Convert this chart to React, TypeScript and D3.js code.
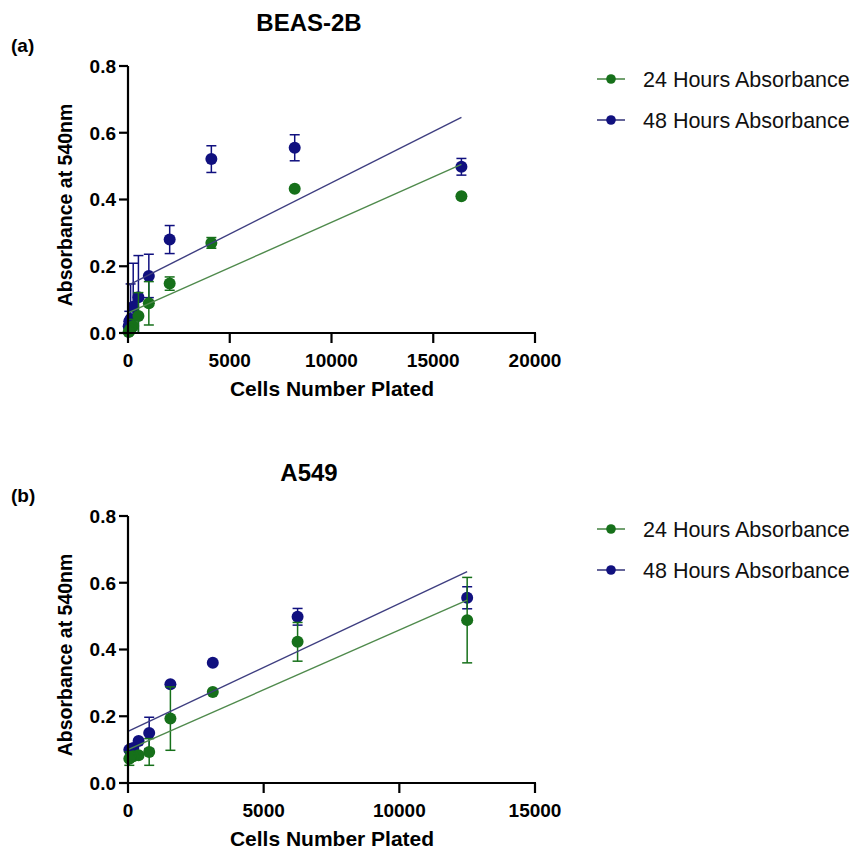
import React from 'react';
import * as d3 from 'd3';

// BEAS-2B (panel a)
const beasCells = [16384, 8192, 4096, 2048, 1024, 512, 256, 128, 64, 32];
const beas24 = [0.41, 0.432, 0.27, 0.148, 0.089, 0.051, 0.021, 0.011, 0.005, 0.003];
const beas24Err = [0, 0, 0.016, 0.02, 0.065, 0.07, 0.02, 0.01, 0, 0];
const beas48 = [0.498, 0.555, 0.521, 0.28, 0.171, 0.107, 0.079, 0.042, 0.035, 0.02];
const beas48Err = [0.025, 0.039, 0.04, 0.042, 0.065, 0.125, 0.13, 0.105, 0.03, 0];
const beasFit24 = [0.06, 2.716e-5]; // intercept, slope
const beasFit48 = [0.143, 3.07e-5];
const beasXTicks = [0, 5000, 10000, 15000, 20000];

// A549 (panel b)
const a549Cells = [12500, 6250, 3125, 1562.5, 781.25, 390.6, 195.3, 97.7, 48.8];
const a549_24 = [0.488, 0.423, 0.273, 0.193, 0.093, 0.083, 0.08, 0.078, 0.073];
const a549_24Err = [0.128, 0.058, 0, 0.095, 0.04, 0, 0, 0, 0.02];
const a549_48 = [0.555, 0.498, 0.36, 0.296, 0.15, 0.126, 0.105, 0.102, 0.1];
const a549_48Err = [0.033, 0.025, 0, 0, 0.047, 0, 0, 0, 0];
const a549Fit24 = [0.1, 3.584e-5];
const a549Fit48 = [0.155, 3.824e-5];
const a549XTicks = [0, 5000, 10000, 15000];

const yTicks = [0, 0.2, 0.4, 0.6, 0.8];
const seriesNames = ['24 Hours Absorbance', '48 Hours Absorbance'];

const green = '#16701a';
const blue = '#10107f';
const greenLine = '#4f8a4c';
const blueLine = '#3e3e80';
const font = 'Liberation Sans, Arial, sans-serif';

type PanelProps = {
  top: number;
  title: string;
  tag: string;
  cells: number[];
  v24: number[];
  e24: number[];
  v48: number[];
  e48: number[];
  fit24: number[];
  fit48: number[];
  xTicks: number[];
};

const Panel = (p: PanelProps) => {
  const left = 128;
  const right = 535;
  const plotTop = p.top + 66;
  const plotBottom = p.top + 333;
  const xMax = p.xTicks[p.xTicks.length - 1];

  const x = d3.scaleLinear().domain([0, xMax]).range([left, right]);
  const y = d3.scaleLinear().domain([0, 0.8]).range([plotBottom, plotTop]);

  // fitted line drawn over the range of the data
  const fitPath = (fit: number[]) => {
    const maxCell = d3.max(p.cells) as number;
    const gen = d3
      .line<number>()
      .x((d) => x(d))
      .y((d) => y(fit[0] + fit[1] * d));
    return gen([0, maxCell]) as string;
  };

  const series = [
    { vals: p.v48, errs: p.e48, color: blue },
    { vals: p.v24, errs: p.e24, color: green },
  ];

  const legendY = [p.top + 79, p.top + 120];
  const legendColors = [green, blue];
  const legendLines = [greenLine, blueLine];

  return (
    <g>
      <text x={309} y={p.top + 31} textAnchor="middle" fontSize={24} fontWeight="bold" fontFamily={font}>
        {p.title}
      </text>
      <text x={11} y={p.top + 52} fontSize={19} fontWeight="bold" fontFamily={font}>
        {p.tag}
      </text>

      {series.map((s, si) => (
        <g key={si}>
          {p.cells.map((c, i) => {
            const e = s.errs[i];
            if (!e) return null;
            const y1 = y(s.vals[i] + e);
            const y2 = y(Math.max(0, s.vals[i] - e));
            return (
              <g key={i} stroke={s.color} strokeWidth={1.5}>
                <line x1={x(c)} x2={x(c)} y1={y1} y2={y2} />
                <line x1={x(c) - 5} x2={x(c) + 5} y1={y1} y2={y1} />
                <line x1={x(c) - 5} x2={x(c) + 5} y1={y2} y2={y2} />
              </g>
            );
          })}
          {p.cells.map((c, i) => (
            <circle key={'p' + i} cx={x(c)} cy={y(s.vals[i])} r={6} fill={s.color} />
          ))}
        </g>
      ))}

      <path d={fitPath(p.fit48)} stroke={blueLine} strokeWidth={1.4} fill="none" />
      <path d={fitPath(p.fit24)} stroke={greenLine} strokeWidth={1.4} fill="none" />

      {/* axes */}
      <line x1={left} x2={left} y1={plotTop} y2={plotBottom} stroke="#000" strokeWidth={2.2} />
      <line x1={left - 1} x2={right + 1} y1={plotBottom} y2={plotBottom} stroke="#000" strokeWidth={2.2} />
      {yTicks.map((t) => (
        <g key={t}>
          <line x1={left - 9} x2={left} y1={y(t)} y2={y(t)} stroke="#000" strokeWidth={2.2} />
          <text
            x={left - 12}
            y={y(t)}
            dy="0.36em"
            textAnchor="end"
            fontSize={19}
            fontWeight="bold"
            fontFamily={font}
          >
            {d3.format('.1f')(t)}
          </text>
        </g>
      ))}
      {p.xTicks.map((t) => (
        <g key={t}>
          <line x1={x(t)} x2={x(t)} y1={plotBottom} y2={plotBottom + 10} stroke="#000" strokeWidth={2.2} />
          <text x={x(t)} y={plotBottom + 34} textAnchor="middle" fontSize={19} fontWeight="bold" fontFamily={font}>
            {t}
          </text>
        </g>
      ))}
      <text x={332} y={p.top + 396} textAnchor="middle" fontSize={21} fontWeight="bold" fontFamily={font}>
        Cells Number Plated
      </text>
      <text
        transform={`translate(72,${p.top + 205}) rotate(-90)`}
        textAnchor="middle"
        fontSize={19.5}
        fontWeight="bold"
        fontFamily={font}
      >
        Absorbance at 540nm
      </text>

      {/* legend */}
      {seriesNames.map((n, i) => (
        <g key={n}>
          <line x1={597} x2={625} y1={legendY[i]} y2={legendY[i]} stroke={legendLines[i]} strokeWidth={1.6} />
          <circle cx={611} cy={legendY[i]} r={4.8} fill={legendColors[i]} />
          <text x={643} y={legendY[i]} dy="0.36em" fontSize={21.5} fontFamily={font} fill="#111">
            {n}
          </text>
        </g>
      ))}
    </g>
  );
};

export default function App() {
  return (
    <svg width={858} height={852} style={{ position: 'absolute', left: 0, top: 0, background: '#fff' }}>
      <rect width={858} height={852} fill="#fff" />
      <Panel
        top={0}
        title="BEAS-2B"
        tag="(a)"
        cells={beasCells}
        v24={beas24}
        e24={beas24Err}
        v48={beas48}
        e48={beas48Err}
        fit24={beasFit24}
        fit48={beasFit48}
        xTicks={beasXTicks}
      />
      <Panel
        top={450}
        title="A549"
        tag="(b)"
        cells={a549Cells}
        v24={a549_24}
        e24={a549_24Err}
        v48={a549_48}
        e48={a549_48Err}
        fit24={a549Fit24}
        fit48={a549Fit48}
        xTicks={a549XTicks}
      />
    </svg>
  );
}
